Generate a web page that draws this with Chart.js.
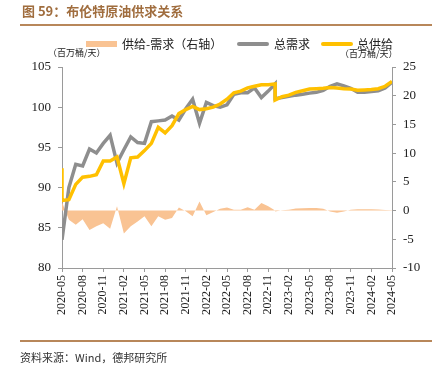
<!DOCTYPE html>
<html>
<head>
<meta charset="utf-8">
<script src="https://cdn.jsdelivr.net/npm/chart.js@4.4.1/dist/chart.umd.min.js"></script>
<style>
  body { margin: 0; width: 443px; height: 370px; position: relative; background: #fff; overflow: hidden;
         font-family: "Noto Sans CJK SC", sans-serif; }
  #chart { position: absolute; left: 0; top: 0; }
  .txt { position: absolute; white-space: nowrap; color: #222; }
  .rule { position: absolute; left: 20px; width: 412px; height: 2px; background: #b8875a; }
  .sw { position: absolute; }
  #fontprobe { position: absolute; left: -100px; top: -100px; font-family: "Liberation Serif"; font-size: 13px; }
</style>
</head>
<body>
<canvas id="chart" width="443" height="370"></canvas>
<span id="fontprobe">2020-05</span>

<div class="txt" style="left:22px;top:3px;font-size:13px;line-height:16px;font-weight:bold;color:#a06d3e">图 59：布伦特原油供求关系</div>
<div class="rule" style="top:24px"></div>

<!-- legend -->
<div class="sw" style="left:86px;top:41px;width:31px;height:6px;background:#f9c393"></div>
<div class="txt" style="left:122px;top:36px;font-size:12px;line-height:16px">供给-需求（右轴）</div>
<div class="sw" style="left:237px;top:42px;width:32px;height:4px;background:#8e8e8e;border-radius:2px"></div>
<div class="txt" style="left:274px;top:36px;font-size:12px;line-height:16px">总需求</div>
<div class="sw" style="left:321px;top:42px;width:32px;height:4px;background:#ffc000;border-radius:2px"></div>
<div class="txt" style="left:357px;top:36px;font-size:12px;line-height:16px">总供给</div>
<div class="txt" style="left:48px;top:47px;font-size:9px;line-height:11px">（百万桶/天）</div>
<div class="txt" style="left:340px;top:48px;font-size:9px;line-height:11px">（百万桶/天）</div>

<div class="rule" style="top:340px"></div>
<div class="txt" style="left:20px;top:350px;font-size:11px;line-height:14px;color:#333">资料来源：Wind，德邦研究所</div>

<script>
// 月份（2020-05 与 2022-12 各出现两次：数据口径切换处形成竖直跳变）
const months = [
  '2020-05','2020-05','2020-06','2020-07','2020-08','2020-09','2020-10','2020-11','2020-12',
  '2021-01','2021-02','2021-03','2021-04','2021-05','2021-06','2021-07','2021-08','2021-09','2021-10','2021-11','2021-12',
  '2022-01','2022-02','2022-03','2022-04','2022-05','2022-06','2022-07','2022-08','2022-09','2022-10','2022-11','2022-12','2022-12',
  '2023-01','2023-02','2023-03','2023-04','2023-05','2023-06','2023-07','2023-08','2023-09','2023-10','2023-11','2023-12',
  '2024-01','2024-02','2024-03','2024-04','2024-05'
];

// 总供给（百万桶/天）
const supply = [
  92.4, 88.4, 88.5, 90.4, 91.3, 91.4, 91.6, 93.3, 93.3,
  93.8, 90.5, 93.7, 93.8, 94.6, 95.5, 97.5, 96.8, 97.7, 99.2, 99.7, 100.1,
  99.7, 99.8, 100.0, 100.4, 101.0, 101.8, 102.0, 102.4, 102.6, 102.8, 102.8, 102.9, 100.9,
  101.3, 101.5, 101.85, 102.05, 102.25, 102.3, 102.35, 102.45, 102.4, 102.3, 102.25, 102.1,
  102.15, 102.2, 102.3, 102.6, 103.2
];

// 总需求（百万桶/天）
const demand = [
  83.5, 83.5, 90.0, 92.9, 92.7, 94.8, 94.3, 95.5, 96.5,
  93.05, 94.7, 96.3, 95.6, 95.5, 98.2, 98.3, 98.4, 98.9, 98.4, 99.8, 101.0,
  98.0, 100.6, 100.2, 100.0, 100.3, 101.6, 101.8, 101.8, 102.4, 101.2, 102.0, 102.9, 101.05,
  101.2, 101.35, 101.5, 101.6, 101.75, 101.85, 102.1, 102.6, 102.9, 102.65, 102.35, 101.85,
  101.85, 101.95, 102.05, 102.4, 103.1
];

// 供给-需求（右轴）
const balance = [
  1.5, 1.5, -1.6, -2.45, -1.5, -3.4, -2.75, -2.2, -3.15,
  0.75, -4.0, -2.75, -1.9, -1.0, -2.75, -1.0, -1.6, -1.3, 0.55, -0.1, -1.0,
  1.6, -0.8, -0.25, 0.3, 0.55, 0.15, 0.15, 0.6, 0.15, 1.3, 0.75, 0.0, -0.15,
  0.05, 0.15, 0.35, 0.4, 0.45, 0.45, 0.3, -0.15, -0.4, -0.15, 0.15, 0.25,
  0.25, 0.25, 0.2, 0.1, 0.05
];

// x 轴刻度标签（每 3 个月）
const xTickLabels = ['2020-05','2020-08','2020-11','2021-02','2021-05','2021-08','2021-11','2022-02',
  '2022-05','2022-08','2022-11','2023-02','2023-05','2023-08','2023-11','2024-02','2024-05'];

// 月份 -> 相对 2020-05 的序号
function monthIndex(s) {
  const [y, m] = s.split('-').map(Number);
  return (y - 2020) * 12 + (m - 5);
}
const toPoints = vals => vals.map((v, i) => ({ x: monthIndex(months[i]), y: v }));

const serifFamily = "'Liberation Serif', 'Times New Roman', serif";
const axisGrey = '#9a9a9a';

// 固定绘图区：左 62，右 392，上 67，下 268
const PLOT = { left: 62, right: 392, top: 67, bottom: 268 };

function drawChart() {
  new Chart(document.getElementById('chart').getContext('2d'), {
    type: 'line',
    data: {
      datasets: [
        {
          label: '总供给',
          data: toPoints(supply),
          yAxisID: 'y',
          borderColor: '#ffc000',
          borderWidth: 3.5,
          pointRadius: 0,
          tension: 0,
          fill: false,
          order: 0
        },
        {
          label: '总需求',
          data: toPoints(demand),
          yAxisID: 'y',
          borderColor: '#8e8e8e',
          borderWidth: 3.5,
          pointRadius: 0,
          tension: 0,
          fill: false,
          order: 1
        },
        {
          label: '供给-需求（右轴）',
          data: toPoints(balance),
          yAxisID: 'y2',
          borderWidth: 0,
          borderColor: 'rgba(0,0,0,0)',
          backgroundColor: '#f9c393',
          pointRadius: 0,
          tension: 0,
          fill: 'origin',
          order: 2
        }
      ]
    },
    options: {
      responsive: false,
      animation: false,
      devicePixelRatio: 1,
      layout: { padding: { top: PLOT.top, left: 0, right: 0, bottom: 0 } },
      plugins: { legend: { display: false }, tooltip: { enabled: false } },
      scales: {
        x: {
          type: 'linear',
          position: 'bottom',
          min: 0,
          max: 48,
          afterFit: s => { s.height = 370 - PLOT.bottom; },
          afterBuildTicks: s => { s.ticks = xTickLabels.map((_, i) => ({ value: i * 3 })); },
          ticks: {
            autoSkip: false,
            maxRotation: 90,
            minRotation: 90,
            padding: 3,
            color: '#222',
            font: { family: serifFamily, size: 12 },
            callback: v => xTickLabels[Math.round(v / 3)]
          },
          grid: { drawOnChartArea: false, drawTicks: true, tickLength: 4, color: axisGrey },
          border: { color: axisGrey, width: 1 }
        },
        y: {
          position: 'left',
          min: 80,
          max: 105,
          afterFit: s => { s.width = PLOT.left; },
          ticks: { stepSize: 5, padding: 7, color: '#222', font: { family: serifFamily, size: 13 } },
          grid: { drawOnChartArea: false, drawTicks: true, tickLength: 4, color: axisGrey },
          border: { color: axisGrey, width: 1 }
        },
        y2: {
          position: 'right',
          min: -10,
          max: 25,
          afterFit: s => { s.width = 443 - PLOT.right; },
          ticks: { stepSize: 5, padding: 7, color: '#222', font: { family: serifFamily, size: 13 } },
          grid: { drawOnChartArea: false, drawTicks: true, tickLength: 4, color: axisGrey },
          border: { color: axisGrey, width: 1 }
        }
      }
    }
  });
}

if (document.fonts && document.fonts.load) {
  document.fonts.load("13px 'Liberation Serif'").then(drawChart, drawChart);
} else {
  drawChart();
}
</script>
</body>
</html>
